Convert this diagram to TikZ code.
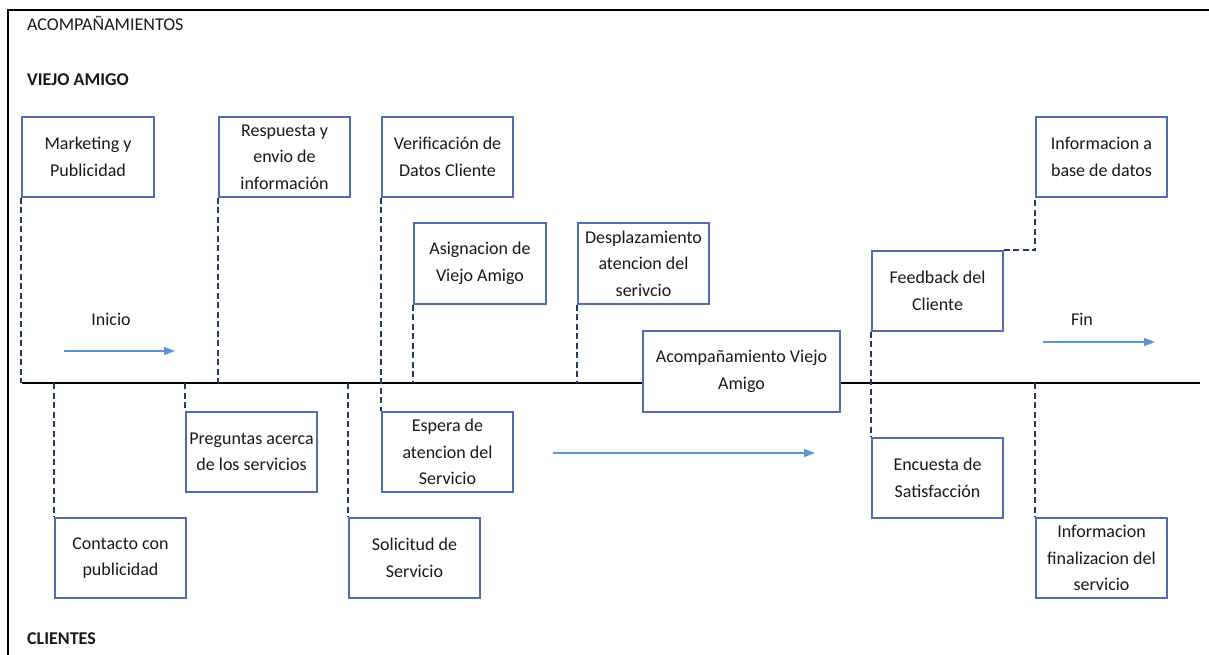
\documentclass[tikz,border=0pt]{standalone}
\usepackage{fontspec}
\setmainfont{Carlito}
\usetikzlibrary{arrows.meta}
\definecolor{boxline}{RGB}{80,110,175}
\definecolor{linkline}{RGB}{35,58,105}
\definecolor{flowblue}{RGB}{95,150,210}
\definecolor{inktext}{RGB}{25,25,25}
\tikzset{
  stagebox/.style={draw=boxline, line width=1.2pt, fill=white, inner sep=0pt,
    minimum width=131pt, minimum height=80pt, align=center, text=inktext,
    font=\fontsize{18}{26.5}\selectfont},
  link/.style={draw=linkline, line width=1.9pt, dash pattern=on 6pt off 3.5pt},
  flow/.style={draw=flowblue, line width=1.3pt, -{Triangle[length=11pt,width=8pt]}},
  heading/.style={anchor=base west, inner sep=0pt, text=inktext,
    font=\fontsize{18}{21}\selectfont},
  flowlabel/.style={anchor=base, inner sep=0pt, text=inktext,
    font=\fontsize{18}{21}\selectfont},
}
\begin{document}
\begin{tikzpicture}[x=1pt, y=-1pt]
\useasboundingbox (0,0) rectangle (1209,655);

% outer frame
\coordinate (frameBL) at (8,655);
\coordinate (frameTL) at (8,10);
\coordinate (frameTR) at (1209,10);
\draw[line width=2pt, black] (frameBL) -- (frameTL) -- (frameTR);

% headings
\node[heading] (hacomp) at (27,31) {ACOMPAÑAMIENTOS};
\node[heading, font=\fontsize{18}{21}\selectfont\bfseries] (hviejo) at (27,86) {VIEJO AMIGO};
\node[heading, font=\fontsize{18}{21}\selectfont\bfseries] (hclientes) at (27,644) {CLIENTES};

% line of interaction
\coordinate (tlstart) at (22,383);
\coordinate (tlend) at (1200,383);
\coordinate (tl) at (0,383);
\draw[line width=2.6pt, black] (tlstart) -- (tlend);

% stages of the provider (upper lane)
\node[stagebox, minimum width=132pt] (mkt) at (88,157) {Marketing y\\Publicidad};
\node[stagebox] (resp) at (284.5,157) {Respuesta y\\envio de\\información};
\node[stagebox] (verif) at (447.5,157) {Verificación de\\Datos Cliente};
\node[stagebox, minimum width=132pt, minimum height=81pt] (asig) at (480,263.5) {Asignacion de\\Viejo Amigo};
\node[stagebox, minimum height=81pt] (despl) at (643.5,263.5) {Desplazamiento\\atencion del\\serivcio};
\node[stagebox, minimum width=197pt, minimum height=81pt] (acomp) at (741.5,371.5) {Acompañamiento Viejo\\Amigo};
\node[stagebox] (feed) at (937.5,291) {Feedback del\\Cliente};
\node[stagebox] (base) at (1101.5,157) {Informacion a\\base de datos};

% stages of the client (lower lane)
\node[stagebox] (preg) at (251.5,452) {Preguntas acerca\\de los servicios};
\node[stagebox] (cont) at (120.5,558) {Contacto con\\publicidad};
\node[stagebox] (esp) at (447.5,452) {Espera de\\atencion del\\Servicio};
\node[stagebox] (sol) at (414.5,558) {Solicitud de\\Servicio};
\node[stagebox] (enc) at (937.5,478) {Encuesta de\\Satisfacción};
\node[stagebox] (finserv) at (1101.5,558) {Informacion\\finalizacion del\\servicio};

% dashed links to the line of interaction
\draw[link] (mkt.south west) -- (mkt.south west |- tl);
\draw[link] (resp.south west) -- (resp.south west |- tl);
\draw[link] (verif.south west) -- (esp.north west);
\draw[link] (asig.south west) -- (asig.south west |- tl);
\draw[link] (despl.south west) -- (despl.south west |- tl);
\draw[link] (feed.south west) -- (enc.north west);
\draw[link] (cont.north west |- tl) -- (cont.north west);
\draw[link] (preg.north west |- tl) -- (preg.north west);
\draw[link] (sol.north west |- tl) -- (sol.north west);
\draw[link] (finserv.north west |- tl) -- (finserv.north west);
\draw[link] (feed.north east) -- (feed.north east -| base.south west) -- (base.south west);

% flow arrows
\node[flowlabel] (inicio) at (111,325) {Inicio};
\coordinate (inicioA) at (64,351);
\coordinate (inicioB) at (175,351);
\draw[flow] (inicioA) -- (inicioB);

\coordinate (midA) at (553,453);
\coordinate (midB) at (815,453);
\draw[flow] (midA) -- (midB);

\node[flowlabel] (fin) at (1082,325) {Fin};
\coordinate (finA) at (1043,342);
\coordinate (finB) at (1155,342);
\draw[flow] (finA) -- (finB);
\end{tikzpicture}
\end{document}
